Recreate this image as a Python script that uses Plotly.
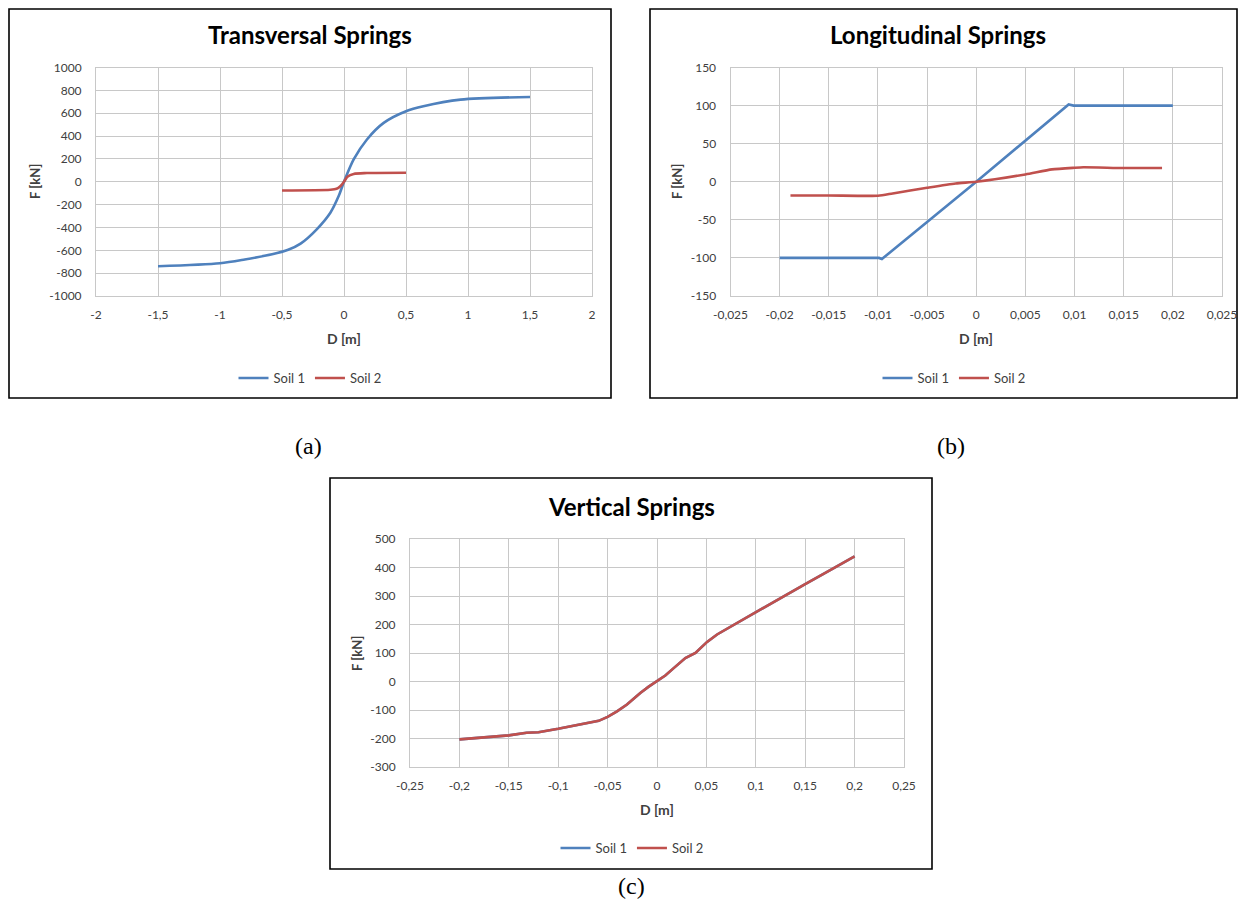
import plotly.graph_objects as go

# page body has an 8px margin; the figure is sized to fit inside the window
OFF = 8
W, H = 1252 - OFF, 899 - OFF

# ---------------- data ----------------
# (a) Transversal springs
trans_soil1_d = [-1.5, -1.0, -0.8, -0.58, -0.45, -0.35, -0.22, -0.11, -0.043, 0.0, 0.078, 0.185, 0.32, 0.5, 0.64, 0.94, 1.5]
trans_soil1_f = [-739, -713, -680, -635, -595, -541, -416, -271, -125, 0, 195, 370, 515, 617, 661, 719, 742]
trans_soil2_d = [-0.5, -0.11, -0.06, -0.03, 0.0, 0.03, 0.078, 0.185, 0.5]
trans_soil2_f = [-76, -70, -62, -40, 0, 45, 68, 76, 79]

# (b) Longitudinal springs
long_soil1_d = [-0.02, -0.0099, -0.0096, 0.0, 0.0094, 0.0099, 0.02]
long_soil1_f = [-100, -100, -101.5, 0, 101.5, 100, 100]
long_soil2_d = [-0.0189, -0.015, -0.01, -0.0085, -0.005, -0.0021, 0.0, 0.005, 0.0077, 0.01, 0.0109, 0.015, 0.0189]
long_soil2_f = [-18, -18, -18.4, -15.4, -7.9, -2.2, 0, 9.6, 16.2, 18.4, 19.0, 18, 18]

# (c) Vertical springs (Soil 1 and Soil 2 coincide)
vert_d = [-0.2, -0.1686, -0.15, -0.132, -0.12, -0.1, -0.081, -0.069, -0.059, -0.05, -0.0405, -0.0304,
          -0.0169, -0.0084, 0.0, 0.0084, 0.0169, 0.0287, 0.0389, 0.0456, 0.0507, 0.0608, 0.0777,
          0.1, 0.1243, 0.15, 0.1753, 0.2]
vert_f = [-203, -193, -189, -180, -178, -166, -153, -143, -138, -124, -105, -81,
          -40, -18, 0, 21, 47, 82, 100, 123, 139, 165, 199,
          244, 293, 342, 391, 439]
vert_soil1_f = vert_f
vert_soil2_f = vert_f

# tick labels
a_xticks = [-2, -1.5, -1, -0.5, 0, 0.5, 1, 1.5, 2]
a_xtext = ["-2", "-1,5", "-1", "-0,5", "0", "0,5", "1", "1,5", "2"]
a_yticks = [-1000, -800, -600, -400, -200, 0, 200, 400, 600, 800, 1000]
a_ytext = ["-1000", "-800", "-600", "-400", "-200", "0", "200", "400", "600", "800", "1000"]

b_xticks = [-0.025, -0.02, -0.015, -0.01, -0.005, 0, 0.005, 0.01, 0.015, 0.02, 0.025]
b_xtext = ["-0,025", "-0,02", "-0,015", "-0,01", "-0,005", "0", "0,005", "0,01", "0,015", "0,02", "0,025"]
b_yticks = [-150, -100, -50, 0, 50, 100, 150]
b_ytext = ["-150", "-100", "-50", "0", "50", "100", "150"]

c_xticks = [-0.25, -0.2, -0.15, -0.1, -0.05, 0, 0.05, 0.1, 0.15, 0.2, 0.25]
c_xtext = ["-0,25", "-0,2", "-0,15", "-0,1", "-0,05", "0", "0,05", "0,1", "0,15", "0,2", "0,25"]
c_yticks = [-300, -200, -100, 0, 100, 200, 300, 400, 500]
c_ytext = ["-300", "-200", "-100", "0", "100", "200", "300", "400", "500"]

BLUE = "#4F81BD"
RED = "#C0504D"
GRID = "#C8C8C8"
TICKC = "#404040"
FONT = "Lato, 'Open Sans', sans-serif"


def px_x(p):
    return (p - OFF) / W


def px_y(p):
    return 1 - (p - OFF) / H


fig = go.Figure()

# (a)
fig.add_trace(go.Scatter(x=trans_soil1_d, y=trans_soil1_f, mode="lines", name="Soil 1",
                         line=dict(color=BLUE, width=2.6, shape="spline", smoothing=0.8),
                         xaxis="x", yaxis="y", legend="legend"))
fig.add_trace(go.Scatter(x=trans_soil2_d, y=trans_soil2_f, mode="lines", name="Soil 2",
                         line=dict(color=RED, width=2.6, shape="spline", smoothing=0.8),
                         xaxis="x", yaxis="y", legend="legend"))
# (b)
fig.add_trace(go.Scatter(x=long_soil1_d, y=long_soil1_f, mode="lines", name="Soil 1",
                         line=dict(color=BLUE, width=2.6),
                         xaxis="x2", yaxis="y2", legend="legend2"))
fig.add_trace(go.Scatter(x=long_soil2_d, y=long_soil2_f, mode="lines", name="Soil 2",
                         line=dict(color=RED, width=2.6, shape="spline", smoothing=0.6),
                         xaxis="x2", yaxis="y2", legend="legend2"))
# (c)
fig.add_trace(go.Scatter(x=vert_d, y=vert_soil1_f, mode="lines", name="Soil 1",
                         line=dict(color=BLUE, width=2.6),
                         xaxis="x3", yaxis="y3", legend="legend3"))
fig.add_trace(go.Scatter(x=vert_d, y=vert_soil2_f, mode="lines", name="Soil 2",
                         line=dict(color=RED, width=2.6),
                         xaxis="x3", yaxis="y3", legend="legend3"))


def xax(rng, tv, tt, dom, anchor):
    return dict(range=rng, tickvals=tv, ticktext=tt, domain=dom, anchor=anchor,
                showgrid=True, gridcolor=GRID, gridwidth=1, zeroline=False,
                showline=True, linecolor=GRID, mirror=True, ticks="",
                ticklabelstandoff=8, automargin=False,
                tickfont=dict(family=FONT, size=12, color=TICKC), fixedrange=True)


def yax(rng, tv, tt, dom, anchor):
    return dict(range=rng, tickvals=tv, ticktext=tt, domain=dom, anchor=anchor,
                showgrid=True, gridcolor=GRID, gridwidth=1, zeroline=False,
                showline=True, linecolor=GRID, mirror=True, ticks="",
                ticklabelstandoff=11, automargin=False,
                tickfont=dict(family=FONT, size=12, color=TICKC), fixedrange=True)


# plot-area pixel boxes (in window pixels)
A = dict(l=96, r=592, t=67.5, b=296)
B = dict(l=730.5, r=1222, t=67.5, b=296)
C = dict(l=410, r=904, t=539, b=767)

fig.update_layout(
    width=W, height=H,
    margin=dict(l=0, r=0, t=0, b=0, autoexpand=False),
    paper_bgcolor="white", plot_bgcolor="white",
    showlegend=True,
    xaxis=xax([-2, 2], a_xticks, a_xtext, [px_x(A["l"]), px_x(A["r"])], "y"),
    yaxis=yax([-1000, 1000], a_yticks, a_ytext, [px_y(A["b"]), px_y(A["t"])], "x"),
    xaxis2=xax([-0.025, 0.025], b_xticks, b_xtext, [px_x(B["l"]), px_x(B["r"])], "y2"),
    yaxis2=yax([-150, 150], b_yticks, b_ytext, [px_y(B["b"]), px_y(B["t"])], "x2"),
    xaxis3=xax([-0.25, 0.25], c_xticks, c_xtext, [px_x(C["l"]), px_x(C["r"])], "y3"),
    yaxis3=yax([-300, 500], c_yticks, c_ytext, [px_y(C["b"]), px_y(C["t"])], "x3"),
)

legend_common = dict(orientation="h", xanchor="center", yanchor="middle",
                     font=dict(family=FONT, size=13, color=TICKC),
                     bgcolor="rgba(0,0,0,0)", itemwidth=30, tracegroupgap=0)
fig.update_layout(
    legend=dict(x=px_x(310), y=px_y(378), **legend_common),
    legend2=dict(x=px_x(954), y=px_y(378), **legend_common),
    legend3=dict(x=px_x(632), y=px_y(848), **legend_common),
)

# chart boxes
for (x0, y0, x1, y1) in [(9, 9, 611, 398), (650, 9, 1237, 398), (330, 478, 932, 869)]:
    fig.add_shape(type="rect", xref="paper", yref="paper",
                  x0=px_x(x0), x1=px_x(x1), y0=px_y(y1), y1=px_y(y0),
                  line=dict(color="black", width=1.6), fillcolor="rgba(0,0,0,0)", layer="below")

ann = []
# titles
for txt, cx, cy in [("Transversal Springs", 310, 35), ("Longitudinal Springs", 938, 35), ("Vertical Springs", 631, 506)]:
    ann.append(dict(text="<b>%s</b>" % txt, x=px_x(cx), y=px_y(cy), xref="paper", yref="paper",
                    showarrow=False, xanchor="center", yanchor="middle",
                    font=dict(family=FONT, size=24, color="black")))
# axis titles
for cx, cy in [(344, 338), (976, 338), (657, 809)]:
    ann.append(dict(text="<b>D [m]</b>", x=px_x(cx), y=px_y(cy), xref="paper", yref="paper",
                    showarrow=False, xanchor="center", yanchor="middle",
                    font=dict(family=FONT, size=14, color=TICKC)))
for cx, cy in [(35, 182), (677, 182), (357, 653)]:
    ann.append(dict(text="<b>F [kN]</b>", x=px_x(cx), y=px_y(cy), xref="paper", yref="paper",
                    showarrow=False, xanchor="center", yanchor="middle", textangle=-90,
                    font=dict(family=FONT, size=13, color=TICKC)))
# panel labels
for txt, cx, cy in [("(a)", 308, 446), ("(b)", 951, 446), ("(c)", 631, 886)]:
    ann.append(dict(text=txt, x=px_x(cx), y=px_y(cy), xref="paper", yref="paper",
                    showarrow=False, xanchor="center", yanchor="middle",
                    font=dict(family="'Liberation Serif', 'Times New Roman', serif", size=24, color="black")))
fig.update_layout(annotations=ann)

fig.write_html("out.html")
